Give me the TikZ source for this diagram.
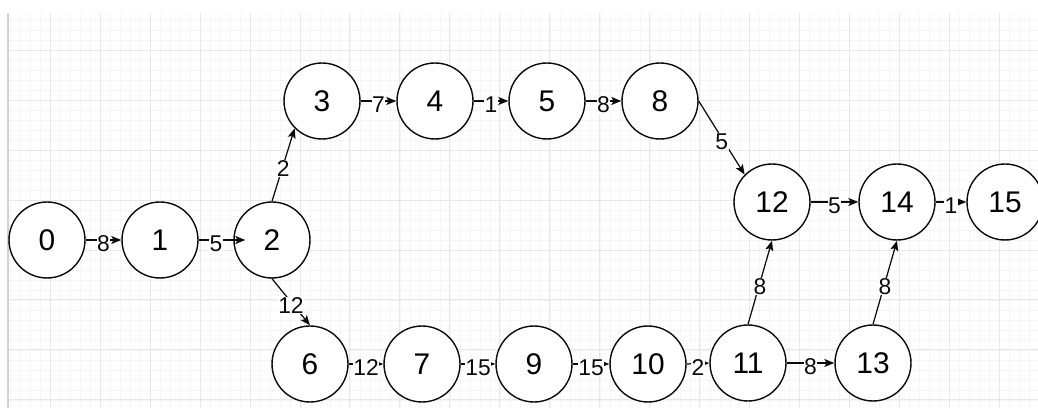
\documentclass[tikz,border=0pt]{standalone}
\usepackage{fontspec}
\setmainfont{Liberation Sans}
\usetikzlibrary{arrows.meta,positioning}
\definecolor{ink}{RGB}{10,10,10}
\definecolor{gridminor}{RGB}{245,245,245}
\definecolor{gridmajor}{RGB}{232,232,232}

\begin{document}
\begin{tikzpicture}[
  x=0.02cm,y=-0.02cm,
  vertex/.style={circle, draw=ink, fill=white, line width=0.8pt,
                 minimum size=1.52cm, inner sep=0pt,
                 font=\fontsize{17}{18}\selectfont},
  flow/.style={-{Stealth[length=2mm,width=1.6mm,inset=0.45mm]},
               draw=ink, line width=0.7pt},
  weight/.style={font=\fontsize{13}{14}\selectfont, text=ink,
                 fill=white, inner sep=0.3pt, yshift=-0.8mm}
]
\useasboundingbox (0,0) rectangle (1038,408);

% Background grid of the drawing canvas.
\fill[white] (0,0) rectangle (1038,408);
\draw[gridminor, line width=0.4pt, step=0.2cm] (8,408) grid (1038,13);
\draw[gridmajor, line width=0.5pt, step=1cm] (8,408) grid (1038,13);
\draw[gridmajor!90!black, line width=0.6pt] (8,13) -- (8,408);

% Upper path.
\node[vertex] (n3)  at (322,101) {3};
\node[vertex] (n4)  at (435,101) {4};
\node[vertex] (n5)  at (547,101) {5};
\node[vertex] (n8)  at (660,101) {8};

% Middle row.
\node[vertex] (n0)  at (47,240)  {0};
\node[vertex] (n1)  at (160,240) {1};
\node[vertex] (n2)  at (272,240) {2};
\node[vertex] (n12) at (772,202) {12};
\node[vertex] (n14) at (897,202) {14};
\node[vertex] (n15) at (1005,202) {15};

% Lower path.
\node[vertex] (n6)  at (310,364) {6};
\node[vertex] (n7)  at (422,364) {7};
\node[vertex] (n9)  at (534,364) {9};
\node[vertex] (n10) at (648,364) {10};
\node[vertex] (n11) at (748,363) {11};
\node[vertex] (n13) at (873,363) {13};

% Weighted edges.
\draw[flow] (n0.east) -- (n1.west) node[weight, midway] {8};
\draw[flow, shorten >=-2.4mm] (n1.east) -- (n2.west)
  node[weight, midway] {5};
\draw[flow] (n2.north) -- (n3.south west) node[weight, midway] {2};
\draw[flow] (n2.south) -- (n6.north) node[weight, midway] {12};

\draw[flow] (n3.east) -- (n4.west) node[weight, midway] {7};
\draw[flow] (n4.east) -- (n5.west) node[weight, midway] {1};
\draw[flow] (n5.east) -- (n8.west) node[weight, midway] {8};
\draw[flow] (n8.east) -- (n12.north west) node[weight, midway] {5};

\draw[flow] (n6.east) -- (n7.west) node[weight, midway] {12};
\draw[flow] (n7.east) -- (n9.west) node[weight, midway] {15};
\draw[flow] (n9.east) -- (n10.west) node[weight, midway] {15};
\draw[flow] (n10.east) -- (n11.west) node[weight, midway] {2};
\draw[flow] (n11.east) -- (n13.west) node[weight, midway] {8};

\draw[flow] (n11.north) -- (n12.south) node[weight, midway] {8};
\draw[flow] (n13.north) -- (n14.south) node[weight, midway] {8};
\draw[flow] (n12.east) -- (n14.west) node[weight, midway] {5};
\draw[flow] (n14.east) -- (n15.west) node[weight, midway] {1};

\end{tikzpicture}
\end{document}
